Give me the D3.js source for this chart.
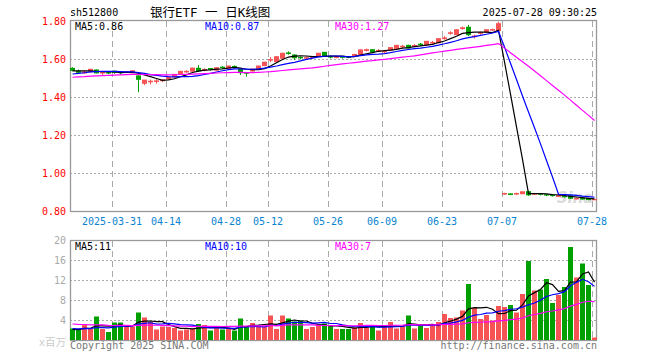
<!DOCTYPE html>
<html><head><meta charset="utf-8">
<script src="https://cdn.jsdelivr.net/npm/d3@7"></script>
<style>body{margin:0;background:#fff}svg{display:block}</style>
</head><body><svg id="c" width="660" height="360"></svg>
<script>
const dates = ["03-20","03-21","03-24","03-25","03-26","03-27","03-28","03-31",
"04-01","04-02","04-03","04-07","04-08","04-09","04-10","04-11","04-14","04-15","04-16","04-17","04-18","04-21","04-22","04-23","04-24","04-25","04-28","04-29","04-30",
"05-06","05-07","05-08","05-09","05-12","05-13","05-14","05-15","05-16","05-19","05-20","05-21","05-22","05-23","05-26","05-27","05-28","05-29","05-30",
"06-03","06-04","06-05","06-06","06-09","06-10","06-11","06-12","06-13","06-16","06-17","06-18","06-19","06-20","06-23","06-24","06-25","06-26","06-27","06-30",
"07-01","07-02","07-03","07-04","07-07","07-08","07-09","07-10","07-11","07-14","07-15","07-16","07-17","07-18","07-21","07-22","07-23","07-24","07-25","07-28"];
const open = [1.551,1.535,1.527,1.533,1.542,1.526,1.528,1.536,1.530,1.530,
1.527,1.511,1.472,1.480,1.482,1.486,1.495,1.505,1.522,1.532,
1.536,1.551,1.540,1.550,1.541,1.557,1.551,1.561,1.546,1.527,
1.537,1.546,1.565,1.594,1.586,1.604,1.632,1.621,1.608,1.604,
1.608,1.614,1.635,1.613,1.608,1.612,1.612,1.617,1.622,1.645,
1.649,1.642,1.638,1.647,1.654,1.664,1.672,1.668,1.678,1.675,
1.684,1.686,1.707,1.735,1.728,1.760,1.767,1.718,1.735,1.740,
1.752,1.750,0.889,0.890,0.889,0.891,0.902,0.888,0.890,0.886,
0.883,0.877,0.878,0.880,0.864,0.866,0.866,0.859];
const close = [1.540,1.530,1.532,1.546,1.527,1.529,1.526,1.530,1.528,1.533,
1.538,1.493,1.489,1.483,1.485,1.490,1.503,1.519,1.535,1.535,
1.552,1.538,1.545,1.546,1.554,1.555,1.563,1.559,1.528,1.525,
1.547,1.563,1.583,1.597,1.612,1.630,1.629,1.607,1.606,1.607,
1.611,1.630,1.617,1.610,1.611,1.609,1.609,1.624,1.648,1.649,
1.637,1.645,1.641,1.660,1.672,1.667,1.658,1.671,1.675,1.693,
1.687,1.707,1.711,1.738,1.754,1.764,1.728,1.721,1.738,1.754,
1.755,1.786,0.892,0.887,0.892,0.901,0.885,0.891,0.888,0.884,
0.881,0.880,0.875,0.867,0.866,0.863,0.860,0.861];
const high = [1.556,1.545,1.537,1.548,1.545,1.535,1.532,1.538,1.534,1.537,
1.540,1.513,1.490,1.492,1.494,1.494,1.505,1.521,1.537,1.541,
1.554,1.568,1.550,1.553,1.556,1.562,1.565,1.566,1.548,1.532,
1.549,1.564,1.585,1.610,1.614,1.633,1.640,1.624,1.613,1.613,
1.616,1.632,1.637,1.618,1.616,1.616,1.616,1.627,1.650,1.655,
1.652,1.652,1.648,1.662,1.674,1.674,1.675,1.678,1.684,1.695,
1.695,1.709,1.720,1.746,1.756,1.771,1.779,1.728,1.745,1.756,
1.760,1.797,0.896,0.893,0.897,0.903,0.905,0.895,0.893,0.889,
0.886,0.884,0.881,0.882,0.870,0.869,0.868,0.863];
const low = [1.536,1.522,1.522,1.530,1.524,1.515,1.520,1.522,1.518,1.526,
1.524,1.425,1.462,1.466,1.470,1.478,1.492,1.503,1.520,1.528,
1.533,1.533,1.535,1.540,1.538,1.549,1.549,1.553,1.516,1.507,
1.534,1.544,1.563,1.583,1.584,1.602,1.622,1.595,1.598,1.600,
1.603,1.612,1.615,1.603,1.604,1.602,1.604,1.614,1.620,1.640,
1.634,1.638,1.632,1.644,1.652,1.658,1.655,1.662,1.668,1.672,
1.679,1.684,1.702,1.728,1.726,1.755,1.720,1.708,1.728,1.738,
1.748,1.748,0.886,0.883,0.886,0.889,0.880,0.884,0.882,0.878,
0.876,0.873,0.871,0.864,0.860,0.859,0.856,0.858];
const volume = [2.3,2.0,3.1,2.2,4.7,2.2,1.6,3.5,3.5,2.7,
2.7,5.5,4.5,3.6,2.1,2.7,2.6,2.4,1.9,2.1,
2.2,3.2,3.0,1.9,2.4,2.1,2.4,1.9,4.3,2.6,
3.4,2.6,2.6,4.9,2.2,4.9,4.3,3.7,3.9,2.2,
2.6,3.1,3.3,2.8,2.2,2.2,2.2,2.5,3.4,2.4,
3.0,1.9,3.0,3.6,2.3,2.7,4.9,2.3,2.9,2.4,
3.2,3.6,5.2,4.4,4.5,5.9,11.2,6.4,4.2,5.0,
3.9,6.8,6.6,7.0,5.5,9.2,15.8,9.9,10.1,12.2,
7.4,9.0,10.6,18.6,12.5,15.3,11.0,0.5];
// closes / volumes of the 29 sessions before the window (estimated from the MA lines)
const priorCloses = [1.482,1.488,1.476,1.470,1.485,1.492,1.498,1.490,1.486,1.495,
1.502,1.508,1.500,1.496,1.505,1.510,1.503,1.498,1.506,1.521,
1.495,1.500,1.505,1.508,1.512,1.530,1.536,1.541,1.543];
const priorVolumes = [4.2,3.8,5.1,3.5,3.2,4.6,3.9,3.1,2.8,3.4,
4.0,3.6,3.3,2.9,3.7,4.4,3.5,3.0,3.2,3.8,
2.6,2.4,2.7,2.3,2.5,2.1,1.9,2.2,2.0];
const xTickDates = ["03-31","04-14","04-28","05-12","05-26","06-09","06-23","07-07","07-28"];
const xTickLabels = ["2025-03-31","04-14","04-28","05-12","05-26","06-09","06-23","07-07","07-28"];
const priceTicks = [0.8,1.0,1.2,1.4,1.6,1.8];
const volTicks = [4,8,12,16,20];
const maPeriods = [5,10,30];
const maColors = ["#000000","#0000ff","#ff00ff"];
const priceLegend = ["MA5:0.86","MA10:0.87","MA30:1.27"];
const volLegend = ["MA5:11","MA10:10","MA30:7"];

const svg = d3.select("#c");
const MONO = "'DejaVu Sans Mono', monospace";
const RED = "#f65454", GREEN = "#00a000";
const L = 70, R = 597;
const x = d3.scaleBand().domain(dates).range([70, 598]).padding(0);
const bw = 5;
const y = d3.scaleLinear().domain([0.8, 1.8]).range([211, 21]);
const yv = d3.scaleLinear().domain([0, 20]).range([340, 240]);

function ma(arr, prior, n) {
  const all = prior.concat(arr), off = prior.length;
  return arr.map((_, i) => d3.mean(all.slice(off + i - n + 1, off + i + 1)));
}

// header
svg.append("text").attr("x", 70).attr("y", 16).attr("font-family", MONO).attr("font-size", 10).text("sh512800");
svg.append("text").attr("x", 150).attr("y", 17).attr("font-family", "'DejaVu Sans Mono','Noto Sans CJK SC'").attr("font-size", 12.5).text("银行ETF 一 日K线图");
svg.append("text").attr("x", 597).attr("y", 16).attr("text-anchor", "end").attr("font-family", MONO).attr("font-size", 10).text("2025-07-28 09:30:25");

// grids
const g = svg.append("g");
priceTicks.slice(1, -1).forEach(t => {
  g.append("line").attr("x1", L).attr("x2", R).attr("y1", Math.round(y(t)) + 0.5).attr("y2", Math.round(y(t)) + 0.5)
    .attr("stroke", "#aaa").attr("stroke-dasharray", "2,2");
});
volTicks.slice(0, -1).forEach(t => {
  g.append("line").attr("x1", L).attr("x2", R).attr("y1", Math.round(yv(t)) + 0.5).attr("y2", Math.round(yv(t)) + 0.5)
    .attr("stroke", "#aaa").attr("stroke-dasharray", "2,2");
});
xTickDates.forEach((d, k) => {
  const xx = x(d) + 0.5;
  g.append("line").attr("x1", xx).attr("x2", xx).attr("y1", 21).attr("y2", 211).attr("stroke", "#aaa").attr("stroke-dasharray", "6,4");
  g.append("line").attr("x1", xx).attr("x2", xx).attr("y1", 241).attr("y2", 340).attr("stroke", "#aaa").attr("stroke-dasharray", "6,4");
  svg.append("text").attr("x", x(d)).attr("y", 225).attr("text-anchor", "middle").attr("font-family", MONO)
    .attr("font-size", 10).attr("fill", "#0a84d0").text(xTickLabels[k]);
});

// watermark
svg.append("text").attr("x", 575).attr("y", 203).attr("text-anchor", "middle").attr("font-family", "'DejaVu Sans'")
  .attr("font-style", "italic").attr("font-weight", "bold").attr("font-size", 15).attr("fill", "#ccc").attr("opacity", 0.7).text("Sina");

// frames
svg.append("rect").attr("x", L + 0.5).attr("y", 20.5).attr("width", R - L - 1).attr("height", 191).attr("fill", "none").attr("stroke", "#999").attr("stroke-width", 1.3);
svg.append("rect").attr("x", L + 0.5).attr("y", 240.5).attr("width", R - L - 1).attr("height", 100).attr("fill", "none").attr("stroke", "#999").attr("stroke-width", 1.3);

// price axis labels
priceTicks.forEach(t => {
  svg.append("text").attr("x", 66).attr("y", y(t) + 4).attr("text-anchor", "end").attr("font-family", MONO)
    .attr("font-size", 10).attr("fill", "#f00").text(t.toFixed(2));
});
volTicks.forEach(t => {
  svg.append("text").attr("x", 66).attr("y", yv(t) + 4).attr("text-anchor", "end").attr("font-family", MONO)
    .attr("font-size", 10).attr("fill", "#aaa").text(t);
});
svg.append("text").attr("x", 66).attr("y", 346).attr("text-anchor", "end").attr("font-family", "'DejaVu Sans Mono','Noto Sans CJK SC'")
  .attr("font-size", 10.5).attr("fill", "#ccc").text("x百万");

// candles
const cg = svg.append("g");
dates.forEach((d, i) => {
  const up = close[i] >= open[i];
  const col = up ? RED : GREEN;
  const x0 = x(d);
  cg.append("line").attr("x1", x0 + 2.5).attr("x2", x0 + 2.5).attr("y1", y(high[i])).attr("y2", y(low[i])).attr("stroke", col);
  const top = y(Math.max(open[i], close[i])), bot = y(Math.min(open[i], close[i]));
  cg.append("rect").attr("x", x0).attr("y", top - 0.5).attr("width", bw).attr("height", Math.max(1, bot - top + 1)).attr("fill", col);
  svg.append("rect").attr("x", x0).attr("y", yv(volume[i])).attr("width", bw).attr("height", 340 - yv(volume[i])).attr("fill", col);
});

// MA lines
maPeriods.forEach((n, k) => {
  const pm = ma(close, priorCloses, n);
  const vm = ma(volume, priorVolumes, n);
  const lp = d3.line().x((v, i) => x(dates[i]) + 2.5).y(v => y(v));
  const lv = d3.line().x((v, i) => x(dates[i]) + 2.5).y(v => yv(v));
  svg.append("path").attr("d", lp(pm)).attr("fill", "none").attr("stroke", maColors[k]).attr("stroke-width", 1.2);
  svg.append("path").attr("d", lv(vm)).attr("fill", "none").attr("stroke", maColors[k]).attr("stroke-width", 1.2);
});

// legends
const legX = [75, 205, 335];
priceLegend.forEach((t, k) => svg.append("text").attr("x", legX[k]).attr("y", 30).attr("font-family", MONO).attr("font-size", 10).attr("fill", maColors[k]).text(t));
volLegend.forEach((t, k) => svg.append("text").attr("x", legX[k]).attr("y", 250).attr("font-family", MONO).attr("font-size", 10).attr("fill", maColors[k]).text(t));

// footer
svg.append("text").attr("x", 70).attr("y", 349).attr("font-family", MONO).attr("font-size", 10).attr("fill", "#777").text("Copyright 2025 SINA.COM");
svg.append("text").attr("x", 597).attr("y", 349).attr("text-anchor", "end").attr("font-family", MONO).attr("font-size", 10).attr("fill", "#777").text("http://finance.sina.com.cn");
</script></body></html>
